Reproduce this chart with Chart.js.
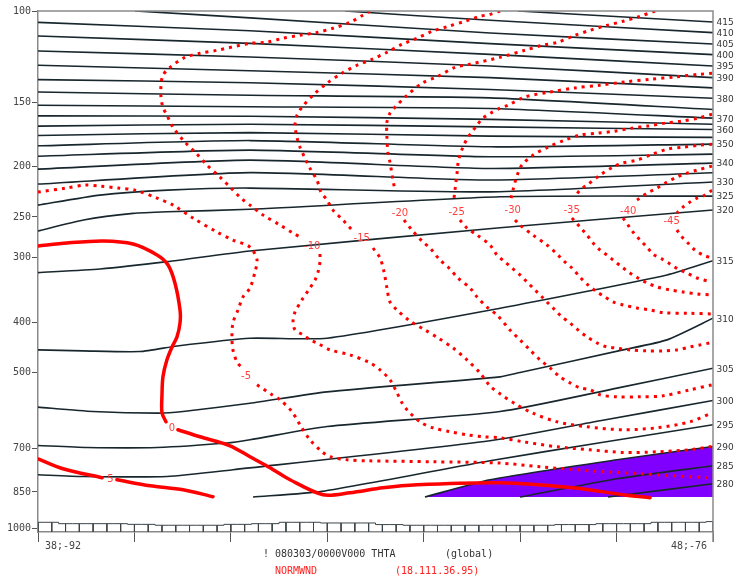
<!DOCTYPE html>
<html><head><meta charset="utf-8">
<script src="https://cdn.jsdelivr.net/npm/chart.js@4.4.1/dist/chart.umd.min.js"></script>
<style>html,body{margin:0;padding:0;background:#fff;}canvas{display:block;}</style>
</head><body>
<canvas id="c" width="735" height="582"></canvas>
<script>
// ---------- axes ----------
const pressureTicks = [100,150,200,250,300,400,500,700,850,1000];
const pressureRange = [100, 1016];
const distanceRange = [0, 49];
const majorStep = 7;
const cornerLabels = ['38;-92', '48;-76'];
const titleLine = '! 080303/0000V000 THTA';
const titleScope = '(global)';
const fieldName = 'NORMWND';
const fieldRange = '(18.111.36.95)';
const analysisBottomP = 869.5;

// ---------- isentropes (THTA, K): [distance, pressure hPa] ----------
const th415 = [[34.84,100],[49,105.0]];
const th410 = [[22.29,100],[32.81,104.2],[49,110.1]];
const th405 = [[7.04,100],[15.39,103.1],[32.81,110.3],[49,115.8]];
const th400 = [[0,105.2],[15.39,109.2],[32.81,115.6],[49,121.4]];
const th395 = [[0,111.8],[15.39,115.5],[32.81,121.3],[49,127.7]];
const th390 = [[0,119.5],[15.39,122.7],[32.81,127.7],[49,134.5]];
const th385 = [[0,127.3],[15.39,130.5],[32.81,134.5],[49,140.8]];
const th380 = [[0,135.7],[15.39,137.6],[32.81,141.8],[49,147.4]];
const th375 = [[0,143.4],[15.39,145.5],[32.81,147.2],[49,155.0]];
const th370 = [[0,152.1],[15.39,153.1],[32.81,154.3],[49,161.1]];
const th365 = [[0,159.5],[15.39,159.7],[32.81,162.0],[49,165.5]];
const th360 = [[0,166.9],[15.39,165.5],[32.81,167.5],[49,169.4]];
const th355 = [[0,174.0],[15.39,171.8],[32.81,174.5],[49,175.5]];
const th350 = [[0,182.2],[15.39,178.0],[32.81,183.0],[49,180.8]];
const th345 = [[0,190.8],[15.39,185.7],[32.81,191.3],[49,189.1]];
const th340 = [[0,202.1],[15.39,194.2],[32.81,201.5],[49,196.8]];
const th335 = [[0,216.0],[15.39,205.3],[32.81,212.2],[49,205.4]];
const th330 = [[0,237.2],[4.5,226.9],[9.4,221.9],[15.39,219.9],[32.81,223.6],[49,214.1]];
const th325 = [[0,266.2],[3.3,253.5],[6.9,246.1],[9.4,244.3],[15.39,241.7],[33.54,228.6],[49,227.9]];
const th320 = [[0,320.4],[4.5,315.2],[9.4,305.1],[15.39,291.0],[33.54,262.3],[49,242.5]];
const th315 = [[0,451.8],[3.27,453.8],[7.4,455.2],[10.1,443.9],[15.39,428.9],[20.98,428.9],[33.54,375.4],[45.66,323.7],[49,303.8]];
const th310 = [[0,582.8],[3.99,594.3],[8.71,598.6],[10.53,594.3],[15.39,573.0],[20.98,544.5],[33.54,509.4],[34.99,499.8],[42.47,451.8],[45.66,432.1],[49,392.4]];
const th305 = [[0,691.3],[3.56,697.5],[8.64,697.5],[13.72,683.9],[15.39,674.0],[20.98,635.3],[33.54,594.3],[42.03,535.6],[49,490.1]];
const th300 = [[0,787.5],[3.27,793.5],[9.36,793.5],[14.15,770.1],[32.81,677.0],[40.8,619.4],[49,565.9]];
const th295 = [[15.61,869.5],[20.62,848.1],[32.81,739.9],[40.8,683.0],[49,630.5]];
const th290 = [[28.09,869.5],[32.81,805.1],[42.03,736.7],[49,694.4]];
const th285 = [[34.99,869.5],[42.03,801.6],[49,756.5]];
const th280 = [[41.38,869.5],[49,819.6]];

const isentropes = [[415,th415],[410,th410],[405,th405],[400,th400],[395,th395],[390,th390],[385,th385],[380,th380],[375,th375],[370,th370],[365,th365],[360,th360],[355,th355],[350,th350],[345,th345],[340,th340],[335,th335],[330,th330],[325,th325],[320,th320],[315,th315],[310,th310],[305,th305],[300,th300],[295,th295],[290,th290],[285,th285],[280,th280]];
const labeledThetas = [415,410,405,400,395,390,380,370,360,350,340,330,325,320,315,310,305,300,295,290,285,280];

// ---------- normal wind (NORMWND, m/s): null = label gap ----------
const nw5 = [[0,733.5],[1.81,766.7],[4.65,798.1],null,[5.73,805.1],[8.13,826.9],[10.53,841.7],[12.7,868.3]];
const nw0 = [[0,284.6],[2.1,280.8],[4.72,278.3],[6.9,282.1],[8.64,296.2],[9.44,309.6],[9.94,335.4],[10.31,378.2],[10.31,400.7],[10.09,426.4],[9.73,445.9],[9.36,472.3],[9.07,509.4],[9.0,551.8],[9.0,597.7],[9.29,622.2],null,[10.16,644.6],[11.76,665.1],[13.94,692.2],[15.39,727.0],[16.84,763.3],[18.29,805.1],[20.69,860.6],[22.65,853.0],[25.04,834.3],[27.51,823.2],[33.54,816.0],[38.84,834.3],[42.47,860.6],[44.43,872.1]];
const nwm5 = [[0,223.9],[2.03,219.9],[3.41,217.0],[4.5,218.0],[5.81,219.9],[7.04,221.9],[8.64,229.9],[9.8,237.2],[11.25,251.3],[12.99,267.4],[14.15,277.1],[15.39,285.9],[15.9,302.8],[15.75,319.4],[15.39,343.0],[14.88,357.0],[14.52,378.2],[14.15,400.7],[14.08,426.4],[14.15,451.8],[14.44,476.5],[14.81,489.4],null,[15.9,527.8],[16.99,551.8],[17.57,564.1],[18.44,595.1],[19.02,630.5],[19.74,674.0],[20.62,711.0],[21.2,727.0],[22.43,736.7],[23.88,740.0],[28.67,743.3],[33.54,747.6],[36.44,760.0],[40.07,773.6],[43.7,784.0],[48.56,798.1]];
const nwm10 = [[24.1,100],[23.59,101.9],[22.65,105.2],[21.41,108.0],[20.25,110.0],[19.02,111.4],[17.78,112.9],[16.62,114.9],[15.39,115.5],[12.99,119.1],[11.76,120.7],[10.67,122.9],[9.58,128.5],[9.07,133.1],[8.93,139.1],[8.93,146.8],[9.07,153.5],[9.36,159.0],[9.8,167.7],[10.6,178.4],[11.47,188.2],[12.27,198.5],[13.21,209.4],[14.01,219.9],[14.81,230.9],[15.39,237.2],[16.33,247.9],[17.57,259.2],[18.51,268.6],[19.16,274.7],null,[20.47,294.9],[20.47,305.5],[20.33,319.4],[20.11,331.0],[19.74,343.0],[19.16,361.8],[18.66,381.6],[18.51,399.0],[18.66,413.4],[19.24,422.6],[19.74,432.1],[20.25,438.0],[21.2,451.8],[22.65,461.9],[24.1,478.7],[24.83,493.8],[25.55,516.2],[26.06,546.9],[26.42,571.7],[26.79,589.8],[27.73,622.2],[28.67,639.0],[29.91,650.4],[31.14,659.1],[32.3,665.1],[33.54,668.0],[35.2,680.0],[37.67,695.3],[40.07,704.6],[42.47,713.2],[44.94,711.0],[47.33,704.6],[48.93,694.4]];
const nwm15 = [[33.54,100],[32.81,101.5],[32.08,102.4],[30.99,104.7],[29.76,107.1],[28.6,109.5],[27.51,112.9],[26.42,116.0],[25.33,120.2],[24.25,124.0],[23.16,127.3],[22.07,131.9],[20.98,137.9],[19.96,145.5],[19.16,153.5],[18.8,159.0],[18.66,166.2],[18.8,175.3],[19.02,183.3],[19.38,192.5],[19.74,201.2],[20.25,212.2],[20.54,223.9],[20.98,231.9],[21.41,242.5],[22.14,253.5],[22.79,265.0],null,[24.32,287.1],[24.83,300.2],[25.12,319.4],[25.33,343.0],[25.55,365.0],[26.06,378.2],[27.0,397.2],[28.09,413.4],[29.04,428.3],[30.12,447.8],[31.14,472.3],[32.08,500.5],[32.81,530.2],[33.54,549.4],[34.63,574.3],[35.86,597.7],[37.67,622.2],[39.85,636.1],[42.47,644.6],[44.94,638.9],[47.33,622.2],[48.93,597.7]];
const nwm20 = [[44.79,100],[43.7,102.4],[42.47,104.7],[41.3,106.6],[40.07,109.0],[38.98,111.4],[37.75,114.9],[36.59,116.5],[35.35,119.1],[33.54,122.9],[31.36,126.7],[30.27,128.5],[29.04,133.7],[27.87,137.9],[26.79,145.5],[25.91,153.5],[25.55,157.6],[25.33,164.0],[25.33,176.0],[25.41,188.2],[25.55,195.9],[25.77,212.2],[25.91,221.9],null,[26.57,253.5],[27.14,265.0],[27.95,279.6],[28.46,287.1],[29.18,302.8],[29.76,312.4],[30.49,328.1],[31.36,343.0],[31.87,357.0],[32.66,374.9],[33.32,386.7],[34.26,413.4],[34.99,432.1],[35.71,451.8],[36.44,472.3],[37.17,489.4],[37.89,509.4],[38.62,523.2],[39.34,534.9],[40.07,539.6],[40.8,551.8],[42.03,556.7],[43.7,556.7],[45.37,554.3],[47.33,539.6],[48.93,527.8]];
const nwm25 = [[48.93,131.9],[48.05,132.5],[46.24,134.1],[44.43,135.5],[42.61,137.1],[40.8,139.1],[38.98,140.8],[37.17,143.4],[35.35,146.6],[34.12,152.1],[33.54,154.1],[32.81,157.8],[32.3,161.1],[31.87,166.2],[31.5,171.4],[31.21,175.3],[30.85,183.3],[30.63,189.9],[30.49,196.8],[30.42,205.8],[30.34,214.1],[30.27,221.9],[30.2,229.9],null,[30.63,253.5],[31.14,262.7],[31.87,271.0],[32.81,283.3],[33.32,296.2],[33.9,305.5],[34.41,313.8],[34.99,323.7],[35.5,334.0],[36.08,346.0],[36.59,357.0],[37.02,366.7],[37.53,378.2],[38.04,390.2],[38.62,400.7],[39.2,413.4],[39.85,426.4],[40.58,438.0],[41.3,445.9],[41.88,447.8],[42.97,451.8],[44.21,453.8],[45.37,453.8],[46.38,451.8],[47.33,445.9],[48.05,441.9],[48.78,438.0]];
const nwm30 = [[48.93,158.3],[47.91,161.1],[46.75,163.2],[45.52,164.7],[44.28,166.9],[43.12,168.4],[41.88,170.7],[40.65,172.2],[39.34,173.7],[38.25,177.6],[37.02,183.3],[35.93,189.9],[35.13,198.5],[34.84,205.8],[34.63,214.1],[34.48,221.9],[34.34,229.9],null,[34.63,253.5],[34.99,259.2],[35.93,271.0],[36.95,283.3],[37.75,296.2],[38.25,305.5],[38.76,313.8],[39.34,326.6],[39.92,338.4],[40.58,349.1],[41.16,357.0],[41.74,365.0],[42.47,369.9],[43.48,374.9],[44.43,378.2],[45.37,382.8],[47.33,383.9],[48.93,385.0]];
const nwm35 = [[48.93,180.9],[48.05,181.7],[46.82,183.3],[45.66,185.0],[44.43,189.9],[43.48,194.2],[42.39,196.8],[41.74,200.3],[40.8,207.6],[39.85,217.0],[39.34,221.9],[38.98,228.9],null,[38.76,251.3],[39.34,261.5],[39.85,271.0],[40.29,280.8],[40.8,289.7],[41.3,296.2],[41.74,302.8],[42.39,312.4],[42.97,320.9],[43.55,328.1],[44.21,335.4],[44.94,341.4],[45.88,346.0],[46.82,349.1],[47.84,352.2],[48.93,353.8]];
const nwm40 = [[48.93,199.4],[47.84,203.0],[47.11,205.8],[46.38,209.4],[45.66,214.1],[44.94,219.9],[44.21,224.9],[43.48,231.9],null,[42.47,251.3],[42.83,259.2],[43.19,267.4],[43.7,277.1],[44.21,285.9],[44.64,294.9],[45.3,301.5],[45.88,308.2],[46.46,315.2],[47.11,320.9],[47.84,328.1],[48.78,333.5]];
const nwm45 = [[48.93,221.9],[48.42,226.9],[47.84,229.9],[47.33,234.0],[46.82,239.3],[46.38,245.7],null,[46.38,265.0],[46.75,273.4],[47.18,280.8],[47.69,289.7],[48.27,296.2],[48.93,300.2]];

const solidContours = [nw5, nw0];
const dottedContours = [nwm5, nwm10, nwm15, nwm20, nwm25, nwm30, nwm35, nwm40, nwm45];
const contourLabels = [['0',9.73,641.8],['5',5.25,805.1],['-5',15.1,509.4],['-10',19.91,284.6],['-15',23.5,275.5],['-20',26.28,246.2],['-25',30.39,244.7],['-30',34.46,243.4],['-35',38.74,243.4],['-40',42.85,244.4],['-45',46.0,255.4]];

// ---------- terrain strip: surface pressure at each grid column ----------
const surfaceP = [973,973,979,979,979,979,979,982,982,986,986,986,986,986,982,982,979,979,973,973,973,976,976,976,976,983,983,986,986,986,986,986,986,986,986,986,986,986,983,983,983,979,979,979,979,973,973,973,973,970];

// ---------- build ----------
function toXY(arr){
  const out = []; let lastX = 0;
  arr.forEach(pt => {
    if (pt === null) out.push({x:lastX, y:null});
    else { out.push({x:pt[0], y:pt[1]}); lastX = pt[0]; }
  });
  return out;
}
const datasets = [];
datasets.push({data: toXY(th290), fill: {value: analysisBottomP}, backgroundColor: '#8000ff', borderWidth: 0, borderColor: 'rgba(0,0,0,0)', pointRadius: 0, tension: 0.2, order: 40});
const hatch = [];
surfaceP.forEach((p,i) => { hatch.push({x:i,y:p},{x:i,y:pressureRange[1]},{x:i,y:null}); });
datasets.push({data: hatch, borderColor: '#3c4448', borderWidth: 1, pointRadius: 0, tension: 0, spanGaps: false, order: 30});
datasets.push({data: surfaceP.map((p,i)=>({x:i,y:p})), stepped: 'middle', borderColor: '#3c4448', borderWidth: 1, pointRadius: 0, order: 30});
isentropes.forEach(([t, arr]) => {
  datasets.push({label: 'THTA ' + t, data: toXY(arr), borderColor: '#18272d', borderWidth: 1.6, pointRadius: 0, tension: 0.2, order: 20});
});
dottedContours.forEach(arr => {
  datasets.push({data: toXY(arr), borderColor: '#ff0000', borderWidth: 3, borderDash: [3,5], borderCapStyle: 'butt', pointRadius: 0, tension: 0.3, spanGaps: false, order: 10});
});
solidContours.forEach(arr => {
  datasets.push({data: toXY(arr), borderColor: '#ff0000', borderWidth: 3.5, borderCapStyle: 'round', borderJoinStyle: 'round', pointRadius: 0, tension: 0.3, spanGaps: false, order: 5});
});

const annotate = {
  id: 'annotate',
  afterDatasetsDraw(chart){
    const ctx = chart.ctx, xs = chart.scales.x, ys = chart.scales.y;
    ctx.save();
    ctx.font = '10px "DejaVu Sans"';
    ctx.fillStyle = '#ff4040';
    ctx.textAlign = 'center'; ctx.textBaseline = 'middle';
    contourLabels.forEach(([t,x,p]) => ctx.fillText(t, xs.getPixelForValue(x), ys.getPixelForValue(p)));
    ctx.restore();
  },
  afterDraw(chart){
    const ctx = chart.ctx, a = chart.chartArea, ys = chart.scales.y;
    ctx.save();
    ctx.strokeStyle = '#8a8a8a'; ctx.lineWidth = 1.5;
    ctx.beginPath(); ctx.moveTo(a.left, a.top); ctx.lineTo(a.right, a.top); ctx.lineTo(a.right, a.bottom + 10); ctx.stroke();
    ctx.font = '9px "DejaVu Sans"'; ctx.fillStyle = '#333'; ctx.textAlign = 'left'; ctx.textBaseline = 'middle';
    isentropes.forEach(([t, arr]) => {
      if (!labeledThetas.includes(t)) return;
      const last = arr[arr.length-1];
      ctx.fillText(String(t), a.right + 3.5, ys.getPixelForValue(last[1]) + 1);
    });
    ctx.font = '10px "DejaVu Sans Mono"'; ctx.fillStyle = '#444';
    ctx.textAlign = 'left'; ctx.fillText(cornerLabels[0], a.left + 7, a.bottom + 14);
    ctx.textAlign = 'right'; ctx.fillText(cornerLabels[1], a.right - 6, a.bottom + 14);
    ctx.textAlign = 'left';
    ctx.fillStyle = '#333';
    ctx.fillText(titleLine, 263, 554);
    ctx.fillText(titleScope, 445, 554);
    ctx.fillStyle = '#ff2020';
    ctx.fillText(fieldName, 275, 571);
    ctx.fillText(fieldRange, 395, 571);
    ctx.restore();
  }
};

new Chart(document.getElementById('c'), {
  type: 'line',
  data: { datasets },
  options: {
    responsive: false, animation: false, devicePixelRatio: 1, events: [],
    layout: { padding: { top: 11, right: 22, left: 0, bottom: 0 } },
    plugins: { legend: { display: false }, tooltip: { enabled: false } },
    scales: {
      x: {
        type: 'linear', min: distanceRange[0], max: distanceRange[1],
        ticks: { display: false, stepSize: majorStep },
        grid: { drawOnChartArea: false, drawTicks: true, tickLength: 10, color: '#555', lineWidth: 1 },
        border: { display: true, color: '#8a8a8a', width: 1.5 },
        afterFit: s => { s.height = 50; }
      },
      y: {
        type: 'logarithmic', reverse: true, min: pressureRange[0], max: pressureRange[1],
        afterBuildTicks: s => { s.ticks = pressureTicks.map(v => ({value: v})); },
        ticks: { autoSkip: false, padding: 1, color: '#444', font: { family: 'DejaVu Sans Mono', size: 10 }, callback: v => String(v) },
        grid: { drawOnChartArea: false, tickLength: 6, color: '#555' },
        border: { color: '#8a8a8a', width: 1.5 },
        afterFit: s => { s.width = 38; }
      }
    }
  },
  plugins: [annotate]
});
</script>
</body></html>
